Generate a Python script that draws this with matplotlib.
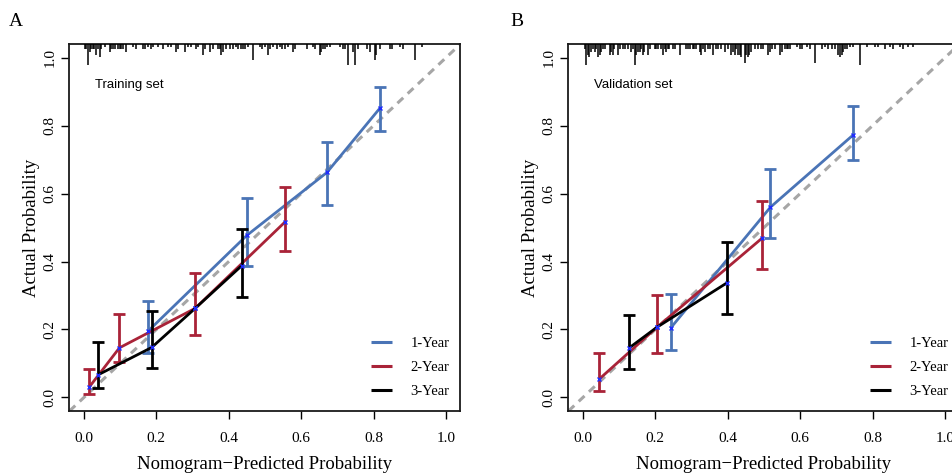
import numpy as np
import matplotlib
matplotlib.use("Agg")
import matplotlib.pyplot as plt

# ---- data ----
# Training set (panel A)
train_1y_x = [0.178, 0.450, 0.671, 0.818]
train_1y_y = [0.196, 0.477, 0.662, 0.852]
train_1y_lo = [0.131, 0.387, 0.565, 0.785]
train_1y_hi = [0.284, 0.588, 0.753, 0.914]

train_2y_x = [0.015, 0.098, 0.307, 0.555]
train_2y_y = [0.031, 0.146, 0.262, 0.516]
train_2y_lo = [0.009, 0.103, 0.184, 0.431]
train_2y_hi = [0.084, 0.246, 0.367, 0.619]

train_3y_x = [0.040, 0.187, 0.307, 0.436]
train_3y_y = [0.067, 0.147, 0.262, 0.388]
train_3y_lo = [0.028, 0.087, np.nan, 0.297]
train_3y_hi = [0.162, 0.253, np.nan, 0.495]

# Validation set (panel B)
val_1y_x = [0.242, 0.518, 0.747]
val_1y_y = [0.204, 0.560, 0.773]
val_1y_lo = [0.141, 0.470, 0.699]
val_1y_hi = [0.305, 0.673, 0.858]

val_2y_x = [0.044, 0.205, 0.494]
val_2y_y = [0.053, 0.207, 0.468]
val_2y_lo = [0.018, 0.131, 0.378]
val_2y_hi = [0.131, 0.300, 0.578]

val_3y_x = [0.128, 0.205, 0.399]
val_3y_y = [0.146, 0.207, 0.338]
val_3y_lo = [0.084, np.nan, 0.246]
val_3y_hi = [0.243, np.nan, 0.456]

# distribution of predicted probabilities (rug at top)
train_rug_x = [0.004, 0.006, 0.011, 0.016, 0.020, 0.025, 0.029, 0.034, 0.039, 0.043,
               0.048, 0.057, 0.071, 0.075, 0.080, 0.085, 0.094, 0.099, 0.103, 0.108,
               0.117, 0.135, 0.145, 0.163, 0.168, 0.177, 0.186, 0.191, 0.204, 0.218,
               0.232, 0.241, 0.255, 0.260, 0.278, 0.287, 0.296, 0.310, 0.315, 0.329,
               0.333, 0.347, 0.356, 0.370, 0.375, 0.379, 0.384, 0.393, 0.402, 0.412,
               0.421, 0.425, 0.435, 0.439, 0.444, 0.453, 0.467, 0.485,
               0.491, 0.500, 0.509, 0.514, 0.523, 0.532, 0.541, 0.546, 0.555, 0.564,
               0.578, 0.583, 0.615, 0.633, 0.638, 0.652, 0.656, 0.661, 0.666, 0.670,
               0.680, 0.707, 0.716, 0.721, 0.730, 0.744, 0.749, 0.758, 0.781, 0.790,
               0.804, 0.808, 0.818, 0.845, 0.850, 0.873, 0.882, 0.914, 0.933]
train_rug_n = [2, 2, 8, 3, 2, 2, 2, 4, 2, 5,
               2, 1, 3, 2, 2, 2, 2, 2, 2, 2,
               3, 1, 2, 2, 2, 1, 2, 1, 1, 2,
               1, 1, 3, 2, 3, 1, 1, 2, 1, 4,
               2, 3, 2, 2, 2, 4, 3, 2, 2, 2,
               1, 2, 2, 2, 2, 1, 6, 1,
               2, 1, 4, 2, 1, 2, 1, 2, 2, 1,
               3, 2, 2, 1, 2, 4, 3, 2, 2, 1,
               1, 1, 2, 2, 8, 3, 8, 2, 2, 3,
               6, 4, 2, 2, 2, 1, 2, 6, 1]

val_rug_x = [0.005, 0.009, 0.014, 0.018, 0.023, 0.028, 0.032, 0.037, 0.041, 0.046,
             0.051, 0.055, 0.060, 0.074, 0.078, 0.083, 0.087, 0.097, 0.101, 0.110,
             0.115, 0.124, 0.134, 0.138, 0.143, 0.147, 0.152, 0.157, 0.161, 0.166,
             0.170, 0.180, 0.184, 0.198, 0.203, 0.207, 0.216, 0.221, 0.226, 0.230,
             0.235, 0.239, 0.249, 0.253, 0.267, 0.285, 0.290, 0.295, 0.304, 0.308,
             0.313, 0.322, 0.327, 0.331, 0.336, 0.345, 0.350, 0.359, 0.368, 0.373,
             0.382, 0.391, 0.401, 0.410, 0.414, 0.419, 0.424, 0.428, 0.433, 0.437,
             0.447, 0.451, 0.456, 0.460, 0.465, 0.474, 0.483, 0.493,
             0.498, 0.512, 0.517, 0.521, 0.530, 0.544, 0.549, 0.558, 0.563, 0.567,
             0.572, 0.590, 0.599, 0.604, 0.618, 0.627, 0.641, 0.659, 0.669, 0.678,
             0.687, 0.696, 0.705, 0.710, 0.715, 0.719, 0.724, 0.728, 0.738, 0.747,
             0.765, 0.784, 0.807, 0.816, 0.834, 0.848, 0.857, 0.876, 0.885, 0.899,
             0.913]
val_rug_n = [2, 8, 4, 5, 3, 2, 3, 2, 5, 4,
             3, 2, 2, 4, 3, 4, 2, 4, 2, 2,
             2, 2, 3, 2, 8, 4, 3, 3, 2, 4,
             3, 4, 2, 2, 2, 2, 2, 4, 2, 3,
             2, 2, 2, 2, 4, 2, 2, 2, 2, 2,
             2, 3, 4, 2, 3, 2, 2, 4, 2, 2,
             2, 3, 2, 4, 3, 4, 2, 4, 4, 5,
             7, 4, 5, 4, 3, 2, 2, 2,
             2, 4, 3, 2, 2, 4, 3, 2, 2, 2,
             2, 1, 2, 2, 1, 2, 7, 2, 1, 2,
             2, 2, 4, 5, 4, 3, 2, 2, 1, 1,
             8, 1, 1, 1, 2, 1, 2, 1, 2, 1,
             1]

labels = ["1-Year", "2-Year", "3-Year"]
colors = ["#4a74b6", "#a92338", "#000000"]
ticks = [0.0, 0.2, 0.4, 0.6, 0.8, 1.0]

SERIF = "Liberation Serif"
SANS = "Liberation Sans"

fig = plt.figure(figsize=(9.53, 4.75), dpi=100)
ax_a = fig.add_axes([0.0729, 0.1347, 0.4103, 0.7726])
ax_b = fig.add_axes([0.5965, 0.1347, 0.4103, 0.7726])


def draw_panel(ax, series, rug_x, rug_n, title):
    # ideal line
    ax.plot([-0.04, 1.04], [-0.04, 1.04], color="#a6a6a6", lw=2.2,
            dashes=(2.6, 2.0), zorder=1)

    handles = []
    # draw order: 1-year, 3-year, 2-year (red on top as in reference)
    for idx in [0, 2, 1]:
        x, y, lo, hi = series[idx]
        x = np.array(x); y = np.array(y)
        lo = np.array(lo); hi = np.array(hi)
        ln, = ax.plot(x, y, color=colors[idx], lw=2.0, zorder=2 + idx,
                      solid_capstyle="butt")
        handles.append((idx, ln))
        ok = ~np.isnan(lo)
        ax.errorbar(x[ok], y[ok], yerr=[y[ok] - lo[ok], hi[ok] - y[ok]],
                    fmt="none", ecolor=colors[idx], elinewidth=2.0,
                    capsize=4.5, capthick=2.0, zorder=2 + idx)
        ax.plot(x, y, ls="none", marker="x", ms=3.5, mew=1.0,
                color="#1f2bff", zorder=6)

    # rug of predicted probabilities along the top
    top = 1.04
    unit = 0.0078
    rx = np.array(rug_x); rn = np.array(rug_n)
    ax.vlines(rx, top - rn * unit, top, color="black", lw=1.1, zorder=5)

    ax.set_xlim(-0.04, 1.04)
    ax.set_ylim(-0.04, 1.04)
    ax.set_xticks(ticks)
    ax.set_yticks(ticks)
    ax.set_xticklabels([f"{t:.1f}" for t in ticks], fontfamily=SERIF, fontsize=11)
    ax.set_yticklabels([f"{t:.1f}" for t in ticks], fontfamily=SERIF, fontsize=11,
                       rotation=90, va="center")
    ax.tick_params(axis="x", direction="out", length=5.5, width=1.0, pad=9.5)
    ax.tick_params(axis="y", direction="out", length=5.5, width=1.0, pad=4)
    for s in ax.spines.values():
        s.set_linewidth(1.3)
        s.set_color("#1a1a1a")

    ax.set_xlabel("Nomogram\u2212Predicted Probability", fontfamily=SERIF,
                  fontsize=13.5, labelpad=8)
    ax.set_ylabel("Actual Probability", fontfamily=SERIF, fontsize=13.5,
                  labelpad=2.5)

    ax.text(0.065, 0.888, title, transform=ax.transAxes, fontfamily=SANS,
            fontsize=9.5, va="center", ha="left")

    handles.sort()
    leg = ax.legend([h for _, h in handles], labels, loc="lower left",
                    bbox_to_anchor=(0.772, 0.035), frameon=False,
                    prop={"family": SERIF, "size": 10.5},
                    handlelength=1.4, handletextpad=1.3, labelspacing=0.75,
                    borderpad=0, borderaxespad=0)
    for h in leg.get_lines():
        h.set_linewidth(2.2)


draw_panel(ax_a,
           [(train_1y_x, train_1y_y, train_1y_lo, train_1y_hi),
            (train_2y_x, train_2y_y, train_2y_lo, train_2y_hi),
            (train_3y_x, train_3y_y, train_3y_lo, train_3y_hi)],
           train_rug_x, train_rug_n, "Training set")
draw_panel(ax_b,
           [(val_1y_x, val_1y_y, val_1y_lo, val_1y_hi),
            (val_2y_x, val_2y_y, val_2y_lo, val_2y_hi),
            (val_3y_x, val_3y_y, val_3y_lo, val_3y_hi)],
           val_rug_x, val_rug_n, "Validation set")

fig.text(0.017, 0.955, "A", fontfamily=SERIF, fontsize=14, va="center", ha="center")
fig.text(0.542, 0.955, "B", fontfamily=SERIF, fontsize=14, va="center", ha="center")

fig.savefig("out.png", dpi=100)
